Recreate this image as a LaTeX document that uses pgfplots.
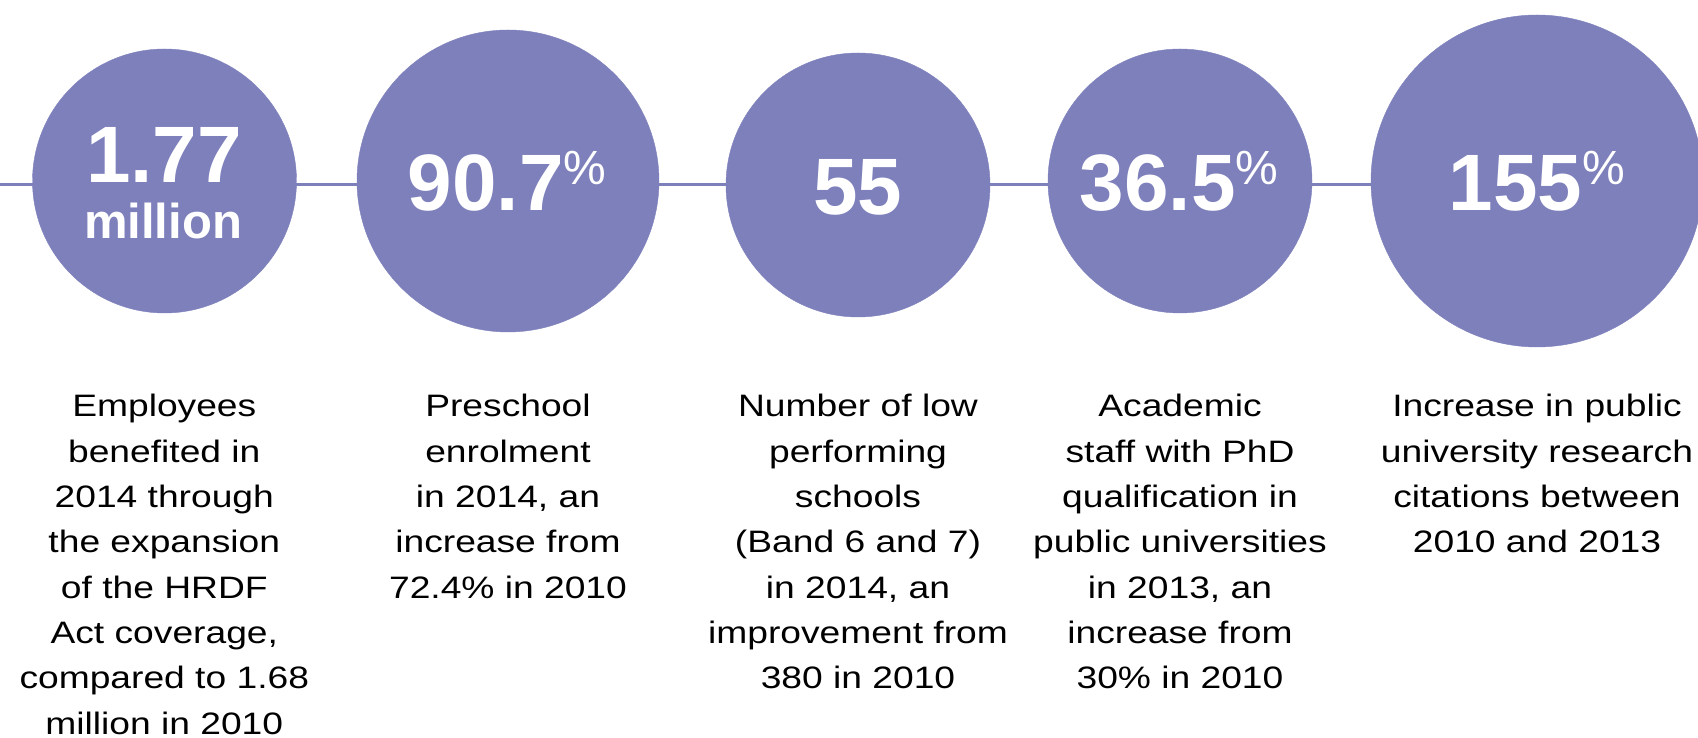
\documentclass[border=0pt]{standalone}
\usepackage{pgfplots}
\pgfplotsset{compat=1.18}
\usepackage{fontspec}
\setmainfont{Liberation Sans}
\newfontfamily\bodyfont[FakeStretch=1.2]{Liberation Sans}
\definecolor{circ}{RGB}{126,128,188}
\newcommand\pct{\raisebox{26pt}{\fontsize{48}{48}\selectfont\mdseries\%}}
\tikzset{
  big/.style={anchor=base, inner sep=0, text=white, font=\fontsize{80}{80}\selectfont\bfseries},
  body/.style={anchor=base, inner sep=0, text=black, font=\bodyfont\fontsize{31}{45.3}\selectfont},
}
\begin{document}
\begin{tikzpicture}
\begin{axis}[name=ax, set layers, width=1698pt, height=738pt, scale only axis,
  xmin=0, xmax=1698, ymin=0, ymax=738, y dir=reverse, hide axis, clip=true]
\addplot[circ, line width=3pt, no marks] coordinates {(0,184.5) (1698,184.5)};
\addplot[scatter, only marks, mark=*,
  scatter/use mapped color={draw=circ, fill=circ},
  visualization depends on={\thisrow{r}\as\rad},
  scatter/@pre marker code/.append style={/tikz/mark size=\rad}]
  table {
x y r
164.5 181 132
508 181 151
858 185 132
1180 181 132
1537 181 166
};
\begin{pgfonlayer}{axis foreground}
\node[big] at (axis cs:164,182.3) {1.77};
\node[big, font=\fontsize{49}{49}\selectfont\bfseries] at (axis cs:163,238.3) {million};
\node[big] at (axis cs:507,210.7) {90.7\pct};
\node[big] at (axis cs:858,214.5) {55};
\node[big] at (axis cs:1179,210.7) {36.5\pct};
\node[big] at (axis cs:1537,210.7) {155\pct};
\end{pgfonlayer}
\node[body] at (axis cs:164.3,417) {\begin{tabular}[t]{@{}c@{}}Employees\\ benefited in\\ 2014 through\\ the expansion\\ of the HRDF\\ Act coverage,\\ compared to 1.68\\ million in 2010\end{tabular}};
\node[body] at (axis cs:508,417) {\begin{tabular}[t]{@{}c@{}}Preschool\\ enrolment\\ in 2014, an\\ increase from\\ 72.4\% in 2010\end{tabular}};
\node[body] at (axis cs:858,417) {\begin{tabular}[t]{@{}c@{}}Number of low\\ performing\\ schools\\ (Band 6 and 7)\\ in 2014, an\\ improvement from\\ 380 in 2010\end{tabular}};
\node[body] at (axis cs:1180,417) {\begin{tabular}[t]{@{}c@{}}Academic\\ staff with PhD\\ qualification in\\ public universities\\ in 2013, an\\ increase from\\ 30\% in 2010\end{tabular}};
\node[body] at (axis cs:1537,417) {\begin{tabular}[t]{@{}c@{}}Increase in public\\ university research\\ citations between\\ 2010 and 2013\end{tabular}};
\end{axis}
\pgfresetboundingbox
\path[use as bounding box] (ax.south west) rectangle (ax.north east);
\end{tikzpicture}
\end{document}
